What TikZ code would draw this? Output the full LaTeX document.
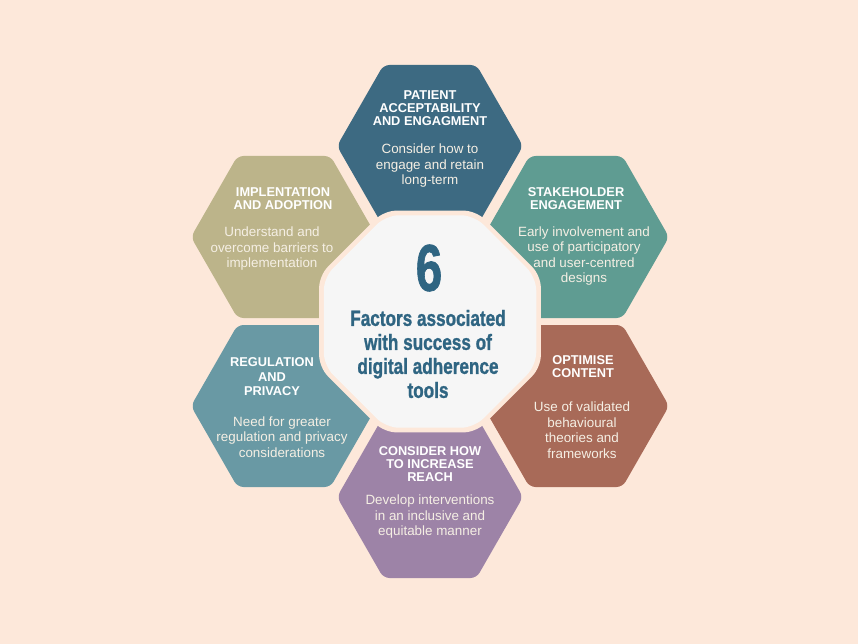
\documentclass[tikz,border=0pt]{standalone}
\usepackage{fontspec}
\setmainfont{Liberation Sans}
\newfontfamily\heavyfont[BoldFeatures={FakeBold=1.3}]{Liberation Sans}
\definecolor{bg}{HTML}{FDE8DA}
\definecolor{hexA}{HTML}{3D6A82}
\definecolor{hexB}{HTML}{BCB48A}
\definecolor{hexC}{HTML}{5F9C92}
\definecolor{hexD}{HTML}{6999A4}
\definecolor{hexE}{HTML}{A86A58}
\definecolor{hexF}{HTML}{9D83A7}
\definecolor{octfill}{HTML}{F6F6F6}
\definecolor{centretext}{HTML}{2F6582}
\definecolor{cream}{HTML}{F5EFE4}
\newcommand\myhex[3]{\fill[#3, rounded corners=6pt] (#1+93,#2) -- (#1+46.5,#2+81) -- (#1-46.5,#2+81) -- (#1-93,#2) -- (#1-46.5,#2-81) -- (#1+46.5,#2-81) -- cycle;}
\tikzset{
  head/.style={font=\bfseries\fontsize{12.8}{13}\selectfont, text=white, align=center, inner sep=0pt},
  body/.style={font=\fontsize{13.4}{15.5}\selectfont, text=cream, align=center, inner sep=0pt},
  bigsix/.style={font=\heavyfont\bfseries\fontsize{66}{66}\selectfont, text=centretext, inner sep=0pt, xscale=0.72, transform shape},
  centretitle/.style={font=\heavyfont\bfseries\fontsize{22}{24}\selectfont, text=centretext, align=center, inner sep=0pt, xscale=0.78, transform shape}
}
\begin{document}
\begin{tikzpicture}[x=1pt,y=-1pt]
\fill[bg] (0,0) rectangle (858,644);
\useasboundingbox (0,0) rectangle (858,644);
% hexagons
\myhex{430}{146}{hexA}
\myhex{284}{237}{hexB}
\myhex{576}{237}{hexC}
\myhex{284}{406}{hexD}
\myhex{576}{406}{hexE}
\myhex{430}{497}{hexF}
% central octagon with peach border
\fill[bg, rounded corners=12pt, shift={(430,321.5)}]
  (22.5:120pt) -- (67.5:120pt) -- (112.5:120pt) -- (157.5:120pt) -- (202.5:120pt) -- (247.5:120pt) -- (292.5:120pt) -- (337.5:120pt) -- cycle;
\fill[octfill, rounded corners=13pt, shift={(430,321.5)}]
  (22.5:115pt) -- (67.5:115pt) -- (112.5:115pt) -- (157.5:115pt) -- (202.5:115pt) -- (247.5:115pt) -- (292.5:115pt) -- (337.5:115pt) -- cycle;
% texts
\node[head] (h1) at (430,108) {PATIENT\\ACCEPTABILITY\\AND ENGAGMENT};
\node[body] (b1) at (430,166) {Consider how to\\engage and retain\\long-term};
\node[head] (h2) at (283,199) {IMPLENTATION\\AND ADOPTION};
\node[body] (b2) at (272,249) {Understand and\\overcome barriers to\\implementation};
\node[head] (h3) at (576,199) {STAKEHOLDER\\ENGAGEMENT};
\node[body] (b3) at (584,256) {Early involvement and\\use of participatory\\and user-centred\\designs};
\node[head, font=\bfseries\fontsize{12.8}{14.5}\selectfont] (h4) at (272,377) {REGULATION\\AND\\PRIVACY};
\node[body] (b4) at (282,437) {Need for greater\\regulation and privacy\\considerations};
\node[head] (h5) at (583,367) {OPTIMISE\\CONTENT};
\node[body] (b5) at (582,430) {Use of validated\\behavioural\\theories and\\frameworks};
\node[head] (h6) at (430,464) {CONSIDER HOW\\TO INCREASE\\REACH};
\node[body] (b6) at (430,517) {Develop interventions\\in an inclusive and\\equitable manner};
\node[bigsix] (six) at (429,268) {6};
\node[centretitle] (title) at (428,354) {Factors associated\\with success of\\digital adherence\\tools};
\end{tikzpicture}
\end{document}
